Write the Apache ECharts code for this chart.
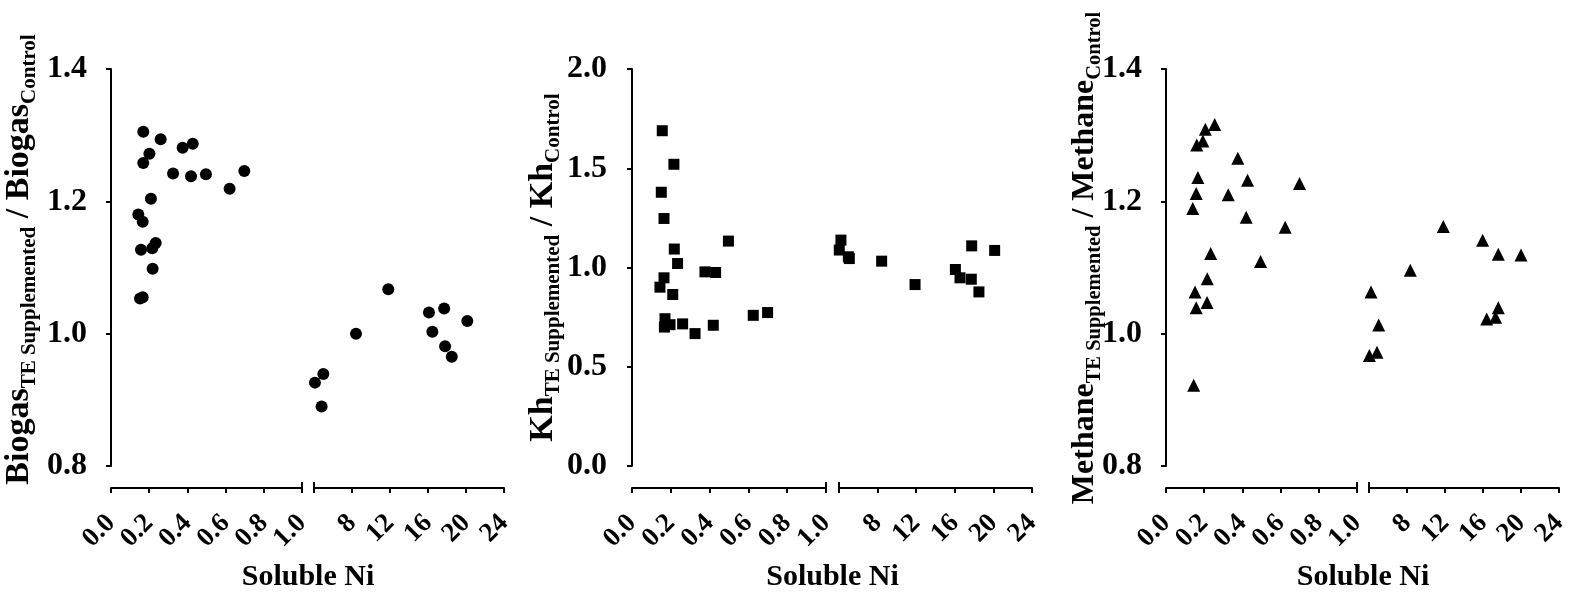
<!DOCTYPE html>
<html>
<head>
<meta charset="utf-8">
<script src="https://cdn.jsdelivr.net/npm/echarts@6/dist/echarts.min.js"></script>
<style>
  html, body { margin: 0; padding: 0; background: #fff; }
  #chart { width: 1593px; height: 592px; }
</style>
</head>
<body>
<div id="chart"></div>
<script>
const FONT = '"Liberation Serif", "Times New Roman", serif';

// Soluble Ni concentration and supplemented/control ratio for each response
const biogasNi = [0.169, 0.26, 0.375, 0.428, 0.201, 0.169, 0.325, 0.419, 0.497, 0.698, 0.621, 0.209, 0.143, 0.166, 0.157, 0.216, 0.234, 0.218, 0.152, 0.166,
  4.1, 4.98, 4.8, 8.42, 11.82, 16.1, 17.7, 16.46, 17.8, 18.5, 20.14];
const biogasRatio = [1.305, 1.294, 1.281, 1.287, 1.272, 1.258, 1.242, 1.238, 1.241, 1.246, 1.219, 1.204, 1.180, 1.169, 1.127, 1.129, 1.137, 1.098, 1.053, 1.055,
  0.926, 0.939, 0.890, 1.000, 1.067, 1.032, 1.038, 1.003, 0.981, 0.965, 1.019];

const khNi = [0.156, 0.216, 0.151, 0.165, 0.497, 0.218, 0.235, 0.165, 0.144, 0.210, 0.376, 0.431, 0.170, 0.167, 0.196, 0.261, 0.325, 0.419, 0.625, 0.699,
  4.2, 4.03, 4.97, 5.07, 8.42, 11.88, 16.06, 16.54, 17.75, 17.71, 18.5, 20.13];
const khRatio = [1.689, 1.520, 1.379, 1.247, 1.133, 1.093, 1.020, 0.948, 0.901, 0.864, 0.978, 0.975, 0.742, 0.700, 0.712, 0.716, 0.667, 0.709, 0.759, 0.773,
  1.138, 1.088, 1.054, 1.045, 1.032, 0.914, 0.990, 0.948, 1.109, 0.941, 0.877, 1.086];

const methaneNi = [0.255, 0.206, 0.193, 0.161, 0.376, 0.427, 0.167, 0.158, 0.326, 0.140, 0.420, 0.699, 0.624, 0.234, 0.495, 0.216, 0.152, 0.158, 0.215, 0.145,
  4.21, 5.02, 4.04, 4.84, 8.35, 11.82, 15.96, 17.61, 20.0, 17.61, 16.39, 17.32];
const methaneRatio = [1.316, 1.309, 1.291, 1.285, 1.265, 1.232, 1.236, 1.212, 1.210, 1.189, 1.176, 1.227, 1.161, 1.121, 1.109, 1.083, 1.063, 1.039, 1.047, 0.922,
  1.063, 1.013, 0.967, 0.972, 1.096, 1.162, 1.141, 1.120, 1.119, 1.039, 1.022, 1.025];

// Axis ticks: the Ni axis is broken between 1 and 4
const lowTicks = [0, 0.2, 0.4, 0.6, 0.8, 1.0];
const highTicks = [8, 12, 16, 20, 24];
const highStart = 4;
const ratioTicks = [0.8, 1.0, 1.2, 1.4];
const khTicks = [0, 0.5, 1.0, 1.5, 2.0];

const xTitle = 'Soluble Ni';
const subTreated = 'TE Supplemented';
const subControl = 'Control';

const panels = [
  { word: 'Biogas', ni: biogasNi, ratio: biogasRatio, yTicks: ratioTicks, symbol: 'circle', size: 12,
    axisX: 94, low: [111, 302], high: [314, 504], main: 34, sub: 21, shift: 16, gap: 54 },
  { word: 'Kh', ni: khNi, ratio: khRatio, yTicks: khTicks, symbol: 'rect', size: 11,
    axisX: 614, low: [632, 826], high: [839, 1032], main: 34, sub: 21, shift: 0, gap: 50 },
  { word: 'Methane', ni: methaneNi, ratio: methaneRatio, yTicks: ratioTicks, symbol: 'triangle', size: 13,
    axisX: 1149, low: [1166, 1357], high: [1369, 1559], main: 32, sub: 20.5, shift: 19, gap: 44 }
];

const TOP = 69, HEIGHT = 397, X_OFFSET = 22;
const BLACK = '#000';

const grid = [], xAxis = [], yAxis = [], series = [], graphic = [];

function makeX(gi, min, max, interval, ticks, labels, fmt) {
  // visible axis with downward ticks
  xAxis.push({
    type: 'value', gridIndex: gi, position: 'bottom', min: min, max: max, interval: interval, offset: X_OFFSET,
    axisLine: { show: true, onZero: false, lineStyle: { color: BLACK, width: 2 } },
    axisTick: { show: true, length: 5, lineStyle: { color: BLACK, width: 2 }, customValues: ticks },
    axisLabel: {
      show: true, rotate: 45, margin: 31, interval: 0, customValues: labels,
      showMinLabel: true, showMaxLabel: true, hideOverlap: false,
      fontFamily: FONT, fontWeight: 'bold', fontSize: 27, color: BLACK, formatter: fmt
    },
    splitLine: { show: false }
  });
}

function makeCap(gi, min, max, interval, at) {
  // short upward mark at the broken end of a segment
  xAxis.push({
    type: 'value', gridIndex: gi, position: 'bottom', min: min, max: max, interval: interval, offset: X_OFFSET,
    axisLine: { show: false, onZero: false },
    axisTick: { show: true, inside: true, length: 6, lineStyle: { color: BLACK, width: 2 }, customValues: [at] },
    axisLabel: { show: false },
    splitLine: { show: false }
  });
}

panels.forEach((p) => {
  const gL = grid.length;
  grid.push({ left: p.low[0], width: p.low[1] - p.low[0], top: TOP, height: HEIGHT, containLabel: false, outerBoundsMode: 'none' });
  const gR = grid.length;
  grid.push({ left: p.high[0], width: p.high[1] - p.high[0], top: TOP, height: HEIGHT, containLabel: false, outerBoundsMode: 'none' });

  const yMin = p.yTicks[0], yMax = p.yTicks[p.yTicks.length - 1];
  const yInt = p.yTicks[1] - p.yTicks[0];

  const nameStr = `{m|${p.word}}{s|${subTreated}}{m| / ${p.word}}{s|${subControl}}`;
  const yL = yAxis.length;
  yAxis.push({
    type: 'value', gridIndex: gL, min: yMin, max: yMax, interval: yInt,
    offset: p.low[0] - p.axisX,
    axisLine: { show: true, lineStyle: { color: BLACK, width: 2 } },
    axisTick: { show: true, length: 5, lineStyle: { color: BLACK, width: 2 }, customValues: p.yTicks },
    axisLabel: {
      show: true, margin: 7, customValues: p.yTicks, padding: [6, 0, 0, 0],
      showMinLabel: true, showMaxLabel: true,
      fontFamily: FONT, fontWeight: 'bold', fontSize: 32, color: BLACK,
      formatter: v => v.toFixed(1)
    },
    splitLine: { show: false },
    name: nameStr, nameLocation: 'middle', nameRotate: 90, nameGap: p.gap, nameMoveOverlap: false,
    nameTextStyle: {
      padding: [0, 0, 0, p.shift],
      rich: {
        m: { fontFamily: FONT, fontWeight: 'bold', fontSize: p.main, lineHeight: p.main + 8, color: BLACK },
        s: { fontFamily: FONT, fontWeight: 'bold', fontSize: p.sub, lineHeight: p.sub, verticalAlign: 'bottom', color: BLACK }
      }
    }
  });
  const yR = yAxis.length;
  yAxis.push({
    type: 'value', gridIndex: gR, min: yMin, max: yMax, interval: yInt, show: false,
    axisLine: { show: false }, axisTick: { show: false }, axisLabel: { show: false }, splitLine: { show: false }
  });

  const highEnd = highTicks[highTicks.length - 1];
  const highInt = highTicks[1] - highTicks[0];
  const lowEnd = lowTicks[lowTicks.length - 1];
  const lowInt = lowTicks[1] - lowTicks[0];
  const xL = xAxis.length;
  makeX(gL, lowTicks[0], lowEnd, lowInt, lowTicks, lowTicks, v => v.toFixed(1));
  makeCap(gL, lowTicks[0], lowEnd, lowInt, lowEnd);
  const xR = xAxis.length;
  makeX(gR, highStart, highEnd, highInt, [highStart].concat(highTicks), highTicks, v => String(v));
  makeCap(gR, highStart, highEnd, highInt, highStart);

  const lowPts = [], highPts = [];
  p.ni.forEach((x, i) => (x <= lowEnd ? lowPts : highPts).push([x, p.ratio[i]]));

  const markStyle = { symbol: p.symbol, symbolSize: p.size, itemStyle: { color: BLACK, opacity: 1 } };
  series.push(Object.assign({ type: 'scatter', xAxisIndex: xL, yAxisIndex: yL, data: lowPts }, markStyle));
  series.push(Object.assign({ type: 'scatter', xAxisIndex: xR, yAxisIndex: yR, data: highPts }, markStyle));

  graphic.push({
    type: 'text', x: (p.low[1] + p.high[0]) / 2, y: 577,
    style: { text: xTitle, fontFamily: FONT, fontWeight: 'bold', fontSize: 30, fill: BLACK, align: 'center', verticalAlign: 'middle' }
  });
});

const chart = echarts.init(document.getElementById('chart'), null, { renderer: 'canvas' });
chart.setOption({
  animation: false,
  backgroundColor: '#fff',
  grid: grid, xAxis: xAxis, yAxis: yAxis, series: series, graphic: graphic
});
</script>
</body>
</html>
